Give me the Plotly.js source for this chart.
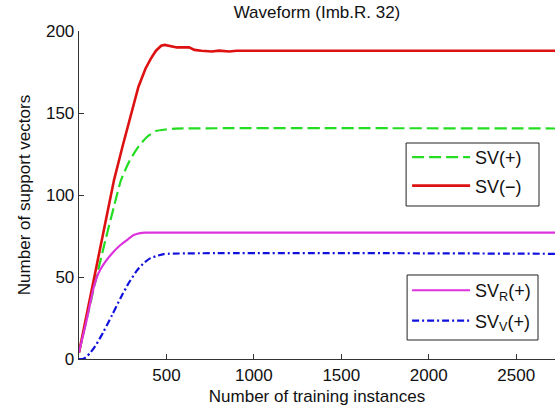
<!DOCTYPE html>
<html>
<head>
<meta charset="utf-8">
<script src="https://cdn.plot.ly/plotly-3.0.1.min.js"></script>
<style>
  html, body { margin: 0; padding: 0; background: #fff; }
  #chart { width: 555px; height: 415px; }
</style>
</head>
<body>
<div id="chart"></div>
<script>
// Support vector counts as the number of training instances grows
const svNegX = [0, 50, 100, 150, 200, 250, 300, 340, 380, 410, 440, 470, 490, 520, 560, 630, 660, 700, 760, 800, 860, 900, 3000];
const svNegY = [4, 30, 57, 83, 109, 130, 150, 166, 177, 183, 188, 191, 191.5, 191, 190, 190, 188.5, 188, 187.5, 188, 187.5, 188, 188];

const svPosX = [0, 50, 100, 150, 200, 240, 290, 340, 390, 440, 500, 550, 3000];
const svPosY = [4, 27, 50, 72, 93, 109, 121, 129.5, 135.5, 139, 140, 140.5, 140.5];

const svRX = [0, 40, 85, 110, 142, 190, 237, 280, 313, 350, 380, 430, 3000];
const svRY = [4, 22, 44, 52, 58, 64.5, 69.5, 73, 75.6, 76.8, 77, 77, 77];

const svVX = [0, 20, 40, 66, 100, 142, 190, 237, 285, 332, 370, 409, 450, 485, 3000];
const svVY = [0, 0, 1, 4, 9, 17, 27, 37, 46.5, 54, 58.5, 61.5, 63, 64, 64];

const xTicks = [500, 1000, 1500, 2000, 2500];
const yTicks = [0, 50, 100, 150, 200];

const FONT = 'Liberation Sans, Arial, sans-serif';

const traces = [
  { x: svPosX, y: svPosY, name: 'SV(+)', legend: 'legend', legendgroup: 'a',
    mode: 'lines', line: { color: '#22dd22', width: 2.2, dash: '12px,5px', shape: 'spline', smoothing: 0.5 } },
  { x: svNegX, y: svNegY, name: 'SV(\u2212)', legend: 'legend', legendgroup: 'b',
    mode: 'lines', line: { color: '#dd1111', width: 2.6 } },
  { x: svRX, y: svRY, name: 'SV<sub>R</sub>(+)', legend: 'legend2', legendgroup: 'c',
    mode: 'lines', line: { color: '#dd33dd', width: 2.2, shape: 'spline', smoothing: 0.5 } },
  { x: svVX, y: svVY, name: 'SV<sub>V</sub>(+)', legend: 'legend2', legendgroup: 'd',
    mode: 'lines', line: { color: '#1111dd', width: 2.2, dash: '7px,3px,2px,3px', shape: 'spline', smoothing: 0.5 } }
];

// legend entries sit inside framed boxes drawn as paper-anchored rectangles
const legendStyle = {
  xanchor: 'left', yanchor: 'middle',
  bgcolor: 'rgba(0,0,0,0)', borderwidth: 0,
  font: { family: FONT, size: 18, color: '#111' },
  itemwidth: 58, traceorder: 'grouped'
};

const boxLine = { color: '#222222', width: 1 };

const layout = {
  width: 555, height: 415,
  margin: { l: 79, r: 0, t: 31, b: 56 },
  paper_bgcolor: '#ffffff', plot_bgcolor: '#ffffff',
  font: { family: FONT, size: 17, color: '#111' },
  title: { text: 'Waveform (Imb.R. 32)', x: 0.5, xref: 'paper',
           y: 1 - 12 / 415, yref: 'container', yanchor: 'middle',
           font: { family: FONT, size: 17, color: '#111' } },
  xaxis: {
    range: [0, 2722], tickvals: xTicks, ticktext: xTicks.map(String),
    ticks: 'inside', ticklen: 5, tickcolor: '#333', tickwidth: 1,
    showline: true, linecolor: '#333', linewidth: 1.3, mirror: false,
    showgrid: false, zeroline: false,
    title: { text: 'Number of training instances', standoff: 6, font: { family: FONT, size: 17 } },
    tickfont: { family: FONT, size: 17 }
  },
  yaxis: {
    range: [0, 200], tickvals: yTicks, ticktext: yTicks.map(String),
    ticks: 'inside', ticklen: 5, tickcolor: '#333', tickwidth: 1,
    showline: true, linecolor: '#333', linewidth: 1.3, mirror: false,
    showgrid: false, zeroline: false,
    title: { text: 'Number of support vectors', standoff: 11, font: { family: FONT, size: 17 } },
    tickfont: { family: FONT, size: 17 }
  },
  legend: Object.assign({ x: 0.6893, y: 0.5716, tracegroupgap: 2 }, legendStyle),
  legend2: Object.assign({ x: 0.6893, y: 0.163, tracegroupgap: 4 }, legendStyle),
  shapes: [
    { type: 'rect', xref: 'paper', yref: 'paper', x0: 0.6872, x1: 0.9664, y0: 0.4665, y1: 0.6585,
      line: boxLine, fillcolor: '#ffffff', layer: 'above' },
    { type: 'rect', xref: 'paper', yref: 'paper', x0: 0.6893, x1: 0.9643, y0: 0.0579, y1: 0.2561,
      line: boxLine, fillcolor: '#ffffff', layer: 'above' }
  ],
  showlegend: true
};

Plotly.newPlot('chart', traces, layout, { displayModeBar: false, staticPlot: true });
</script>
</body>
</html>
